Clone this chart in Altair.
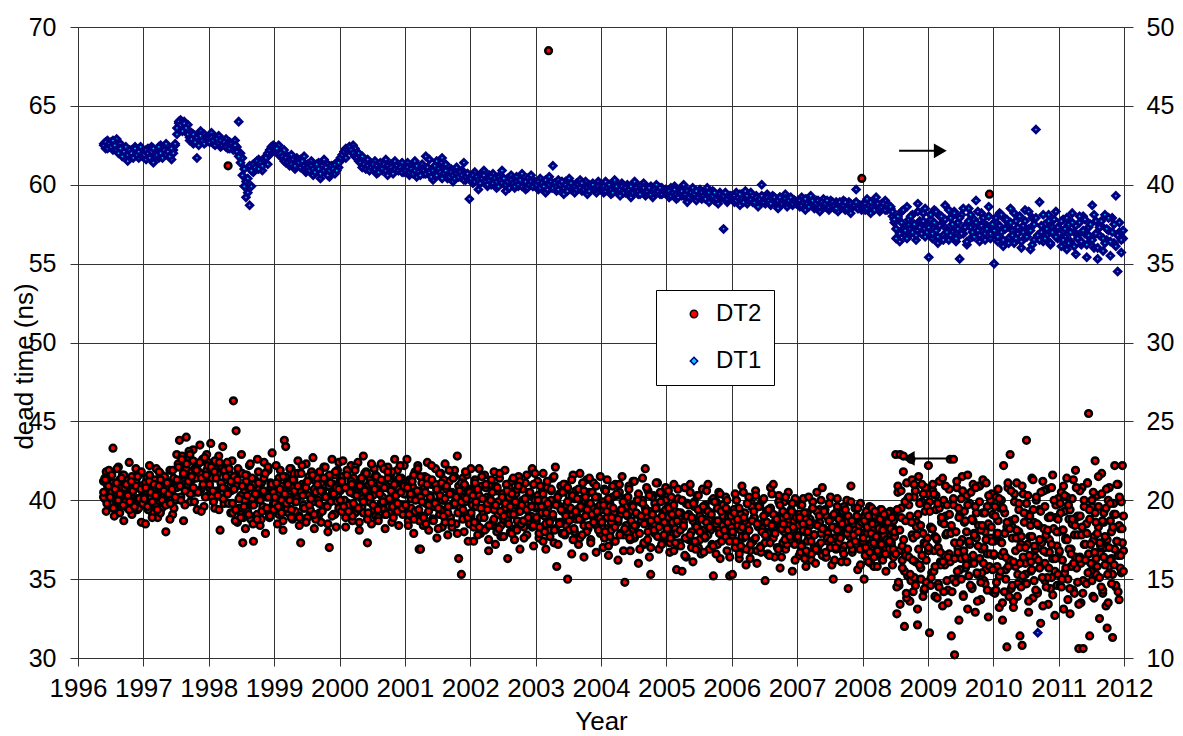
import altair as alt
import pandas as pd

FONT = "Liberation Sans"

# ---- sampling range of the measurements (decimal years) ----
FIRST_SAMPLE = 1996.38
LAST_SAMPLE = 2012.0

# ---- DT2 (left axis, ns), first set of readings, year by year ----
DT2_1996 = [41.2, 40.1, 41.8, 39.9, 40.7, 41.5, 40.3, 43.3, 39.6, 41.0, 40.4, 42.1, 39.2, 40.8, 41.6,
            38.7, 40.2, 41.3, 39.5, 42.4, 40.6, 39.1, 41.1, 40.0, 42.0, 39.4, 40.9, 41.7, 38.6, 40.5]
DT2_1997 = [40.3, 38.5, 41.4, 39.7, 42.2, 40.9, 39.2, 41.0, 40.1, 42.0, 38.9, 40.6, 41.7, 39.5, 40.2,
            41.3, 38.0, 40.8, 39.8, 41.9, 40.4, 39.1, 41.2, 40.0,
            42.9, 41.1, 43.8, 40.2, 42.4, 38.7, 41.6, 44.0, 40.8, 42.7, 39.9, 41.3, 43.2, 40.5, 42.1,
            39.4, 41.8, 43.5, 40.7, 42.5, 39.6, 41.4, 42.9, 40.3]
DT2_1998 = [41.9, 43.6, 40.2, 42.3, 39.5, 41.5, 40.6, 42.8, 38.1, 41.0, 43.4, 39.8, 42.0, 40.4, 61.2,
            41.7, 39.2, 42.5, 46.3, 40.9, 44.4, 38.6, 41.8, 39.3, 42.9, 37.3, 40.5, 38.2, 41.6, 39.7,
            42.2, 38.8, 40.1, 37.4, 41.3, 39.0, 42.6, 40.7, 38.4, 41.1, 39.6, 42.4, 37.9, 40.3, 41.9,
            38.9, 40.8, 43.0, 39.4]
DT2_1999 = [40.6, 42.2, 38.5, 41.4, 39.7, 40.9, 38.1, 43.8, 43.4, 41.1, 39.2, 40.4, 42.0, 38.8, 41.7,
            39.9, 40.2, 42.5, 38.4, 37.3, 41.0, 39.5, 40.7, 42.3, 38.9, 41.5, 39.3, 40.1, 42.7, 38.2,
            41.2, 40.0, 39.0, 41.8, 38.6, 40.5, 42.1, 39.6, 41.3, 38.0, 37.0, 40.8, 42.6, 39.1, 41.6,
            38.3, 40.3, 42.4]
DT2_2000 = [41.2, 39.4, 42.5, 40.0, 38.3, 41.7, 39.8, 40.9, 42.2, 38.7, 41.4, 39.2, 40.5, 42.4, 38.1,
            41.0, 39.6, 42.8, 40.2, 41.8, 37.3, 39.9, 41.3, 38.5, 40.7, 42.0, 39.0, 41.5, 38.9, 40.4,
            42.3, 39.5, 41.1, 38.2, 40.8, 42.1, 39.3, 41.6, 38.6, 40.1, 42.6, 39.7, 41.9, 38.4, 40.6,
            41.4, 39.1, 42.2]
DT2_2001 = [40.4, 42.6, 38.7, 41.3, 39.5, 40.9, 37.9, 41.8, 39.2, 42.2, 36.9, 36.9, 40.6, 38.4, 41.5,
            39.8, 42.4, 38.1, 40.2, 41.0, 38.8, 39.6, 42.0, 37.6, 40.8, 39.1, 41.7, 38.3, 40.0, 42.3,
            39.4, 37.8, 41.2, 38.9, 40.5, 39.7, 41.9, 38.5, 42.8, 36.3, 40.1, 35.3, 41.4, 38.0, 39.9,
            41.6, 37.4, 40.7]
DT2_2002 = [42.0, 39.7, 37.4, 41.3, 38.6, 40.5, 42.0, 37.9, 40.9, 39.0, 41.6, 38.2, 40.2, 36.8, 41.0,
            39.5, 38.4, 41.8, 37.2, 40.6, 39.1, 41.4, 37.7, 40.0, 38.8, 41.9, 39.4, 36.3, 40.8, 38.0,
            41.2, 39.8, 37.5, 40.4, 38.7, 41.5, 36.9, 39.9, 40.7, 38.3, 41.1, 37.8, 39.6, 40.3, 38.5,
            42.0, 37.1, 41.7]
DT2_2003 = [39.5, 41.2, 37.6, 40.4, 38.3, 41.7, 39.0, 36.9, 40.8, 68.5, 38.1, 40.0, 41.4, 37.3, 42.1,
            35.8, 39.7, 38.6, 40.9, 37.9, 39.3, 41.0, 38.4, 35.0, 40.3, 39.1, 36.6, 41.6, 38.0, 40.6,
            39.4, 37.2, 41.7, 38.8, 40.1, 36.4, 39.9, 41.3, 38.2, 40.5, 37.5, 39.6, 41.1, 38.5, 36.7,
            40.2, 38.9, 41.5]
DT2_2004 = [39.4, 37.0, 40.7, 38.2, 41.3, 36.5, 39.8, 38.6, 40.2, 37.4, 41.0, 38.9, 36.2, 40.5, 39.1,
            41.5, 37.8, 34.8, 39.6, 38.0, 40.9, 36.8, 39.3, 41.2, 37.6, 38.4, 40.0, 36.0, 39.9, 38.7,
            41.4, 37.2, 42.0, 39.0, 40.6, 36.4, 35.3, 38.3, 40.3, 37.9, 39.5, 41.1, 36.9, 38.8, 40.4,
            37.3, 39.2, 40.8]
DT2_2005 = [38.9, 40.6, 36.7, 39.5, 37.8, 41.0, 38.2, 35.6, 40.1, 37.3, 39.2, 35.5, 38.6, 40.8, 36.4,
            39.8, 37.5, 41.0, 38.0, 36.1, 39.6, 38.4, 40.3, 37.0, 39.0, 36.6, 40.7, 38.8, 37.6, 39.4,
            41.0, 36.9, 38.1, 40.0, 35.2, 38.7, 39.9, 37.2, 40.5, 36.3, 38.5, 39.7, 37.9, 40.2, 36.8,
            39.1, 35.2, 38.3]
DT2_2006 = [35.3, 38.7, 40.4, 37.0, 39.5, 36.3, 38.1, 40.9, 37.6, 39.2, 35.9, 38.5, 40.2, 36.8, 39.8,
            37.4, 38.9, 40.6, 36.0, 38.3, 39.6, 37.1, 40.0, 38.6, 34.9, 39.3, 36.6, 38.0, 40.8, 37.7,
            41.0, 36.4, 39.0, 38.2, 40.3, 35.7, 38.8, 37.3, 39.9, 36.9, 38.4, 40.5, 37.5, 39.4, 35.5,
            38.1, 40.1, 37.8]
DT2_2007 = [38.4, 36.5, 39.7, 37.2, 40.1, 38.0, 35.8, 39.2, 37.6, 38.8, 36.2, 39.9, 37.0, 38.5, 40.5,
            36.8, 39.4, 37.9, 40.8, 38.2, 36.4, 39.0, 37.4, 38.7, 40.2, 35.9, 35.0, 38.3, 36.9, 39.6,
            37.7, 38.9, 36.1, 39.3, 37.1, 38.6, 40.0, 34.4, 37.8, 40.9, 36.7, 38.1, 39.5, 37.3, 35.6,
            38.8, 39.8, 60.4]
DT2_2008 = [37.9, 35.0, 39.1, 36.6, 38.4, 37.2, 39.6, 36.0, 38.7, 37.5, 35.8, 39.2, 38.0, 36.9, 38.8,
            37.4, 39.4, 36.3, 38.2, 37.0, 39.0, 35.5, 38.5, 37.7, 36.6, 39.3, 37.1, 38.3, 36.4, 38.9,
            42.9, 32.8, 40.5, 34.6, 42.9, 38.9, 36.2, 42.8, 32.0, 36.5, 41.1, 35.2, 39.7, 33.6, 42.6,
            37.8, 34.2, 40.2, 36.1, 38.6, 32.1, 41.5, 38.4, 35.0, 39.9, 33.9, 37.3, 40.8, 34.8, 37.6]
DT2_2009 = [42.2, 31.6, 38.3, 35.4, 40.6, 36.8, 33.9, 39.4, 37.5, 34.7, 41.2, 36.1, 38.9, 33.3, 40.0,
            35.9, 37.8, 39.7, 34.3, 36.6, 42.6, 31.4, 38.1, 42.6, 30.2, 35.0, 40.8, 37.0, 32.4, 39.1,
            36.3, 41.5, 34.0, 38.6, 35.7, 40.3, 33.1, 37.3, 39.8, 36.0, 34.5, 41.0, 37.9, 32.9, 39.2,
            35.3, 38.4, 40.9, 33.7, 36.9, 41.3, 34.9, 38.0, 35.6, 39.6, 32.6, 59.4, 37.6, 40.4, 34.2]
DT2_2010 = [37.4, 34.1, 40.2, 35.8, 38.7, 33.2, 39.5, 36.5, 32.4, 42.2, 37.9, 35.0, 30.7, 40.8, 36.2,
            42.9, 34.4, 38.3, 33.6, 39.9, 36.8, 41.1, 35.3, 38.0, 31.4, 37.2, 30.8, 40.4, 34.7, 36.0,
            43.8, 39.1, 32.9, 37.7, 35.5, 41.4, 33.8, 38.6, 36.4, 40.0, 34.2, 37.0, 39.4, 32.2, 35.9,
            41.2, 38.2, 34.9, 36.7, 40.7, 33.4, 37.5, 39.0, 35.1, 41.6, 36.3, 32.7, 38.9, 34.6, 40.1]
DT2_2011 = [38.0, 34.6, 40.5, 36.2, 33.1, 39.3, 37.5, 41.4, 35.0, 38.8, 32.8, 36.9, 40.1, 34.3, 37.8,
            41.9, 35.7, 39.0, 30.6, 36.4, 33.5, 40.8, 30.6, 37.2, 34.8, 38.5, 41.1, 45.5, 31.4, 36.0,
            39.6, 33.9, 37.7, 42.5, 35.3, 40.3, 38.3, 32.5, 36.6, 41.7, 34.1, 39.2, 37.0, 33.3, 31.9,
            40.0, 35.8, 38.7, 36.3, 31.3, 39.8, 42.2, 34.5, 37.4, 41.0, 33.7, 38.2, 35.4, 42.2, 36.8]

# ---- DT2 second set of readings ----
DT2B_1996 = [40.2, 41.4, 39.3, 40.9, 41.9, 39.8, 40.5, 41.1, 39.0, 40.7, 42.0, 40.0, 41.3, 39.6, 40.4,
             41.6, 39.9, 40.8, 41.0, 39.4, 40.3, 41.5, 40.6, 39.7, 41.2, 40.1, 39.5, 40.9, 41.8, 40.2]
DT2B_1997 = [39.9, 41.1, 40.6, 39.4, 41.6, 40.2, 38.9, 40.8, 41.3, 39.6, 40.4, 41.8, 39.2, 40.7, 40.0,
             41.5, 39.7, 40.3, 41.1, 38.8, 40.5, 41.9, 39.5, 40.9,
             40.8, 42.3, 41.2, 40.0, 42.8, 41.6, 39.7, 42.0, 41.0, 43.1, 40.4, 41.8, 42.5, 39.9, 41.4,
             42.2, 40.6, 41.7, 39.3, 42.6, 41.1, 40.2, 41.9, 42.4]
DT2B_1998 = [40.8, 42.0, 41.4, 39.9, 42.5, 40.5, 41.7, 39.4, 42.2, 41.0, 40.1, 41.9, 40.7, 42.4, 39.8,
             41.2, 40.6, 39.2, 41.5, 38.7, 40.9, 42.0, 39.5, 40.3, 41.7, 38.9, 40.0, 41.2, 39.3, 40.8,
             42.3, 39.7, 38.5, 41.0, 40.4, 39.1, 41.8, 40.1, 38.8, 40.6, 41.4, 39.4, 40.2, 42.1, 39.0,
             41.1, 40.5, 39.8]
DT2B_1999 = [39.8, 41.0, 40.4, 39.1, 41.9, 40.0, 38.7, 40.6, 41.5, 39.5, 40.2, 42.0, 38.9, 40.8, 41.3,
             39.3, 40.1, 41.7, 39.0, 40.5, 42.2, 39.7, 40.9, 38.6, 41.2, 40.3, 39.4, 41.8, 39.9, 40.7,
             38.8, 41.4, 40.0, 39.2, 41.1, 40.6, 39.6, 42.1, 40.2, 38.5, 41.6, 39.9, 40.4, 41.0, 39.1,
             40.8, 41.9, 39.5]
DT2B_2000 = [40.6, 39.3, 41.5, 40.0, 38.9, 41.9, 39.7, 40.8, 41.2, 39.0, 40.4, 42.1, 39.5, 40.9, 38.6,
             41.3, 40.1, 39.2, 41.7, 40.5, 38.8, 41.0, 39.9, 42.3, 40.3, 39.4, 41.6, 40.7, 38.7, 41.1,
             39.8, 40.2, 42.0, 39.1, 40.9, 41.4, 39.6, 40.0, 41.8, 38.9, 40.5, 41.2, 39.3, 40.7, 42.2,
             39.7, 41.0, 40.4]
DT2B_2001 = [39.6, 40.9, 38.4, 41.2, 40.1, 38.9, 41.6, 39.3, 40.5, 42.0, 38.7, 40.2, 41.1, 39.0, 40.8,
             38.5, 41.4, 39.7, 40.3, 42.2, 38.8, 39.9, 41.0, 40.6, 38.2, 41.7, 39.4, 40.0, 41.3, 38.6,
             40.7, 39.2, 41.9, 40.4, 38.3, 39.8, 41.5, 40.1, 37.9, 40.9, 39.5, 41.1, 38.8, 40.2, 41.8,
             39.1, 40.6, 38.5]
DT2B_2002 = [39.0, 40.6, 38.3, 41.1, 39.6, 37.8, 40.3, 38.9, 41.5, 39.2, 38.1, 40.8, 39.8, 37.5, 40.1,
             41.3, 38.6, 39.4, 40.9, 38.0, 39.9, 41.7, 38.4, 40.4, 37.7, 39.5, 41.0, 38.8, 40.2, 39.1,
             37.9, 41.4, 39.7, 38.2, 40.7, 39.3, 41.2, 38.5, 40.0, 37.6, 39.8, 41.6, 38.7, 40.5, 39.0,
             38.3, 41.0, 39.6]
DT2B_2003 = [38.7, 40.3, 37.9, 40.9, 39.2, 37.4, 40.0, 38.5, 41.2, 39.6, 37.7, 40.6, 38.9, 41.5, 38.2,
             39.9, 37.2, 40.4, 38.6, 39.3, 41.0, 37.8, 39.7, 40.8, 38.1, 39.4, 41.3, 37.5, 40.1, 38.8,
             39.0, 40.7, 37.6, 39.5, 41.1, 38.4, 40.2, 38.0, 39.8, 41.4, 37.3, 40.5, 38.9, 39.1, 40.9,
             38.3, 39.6, 37.9]
DT2B_2004 = [38.3, 39.9, 37.6, 40.6, 38.9, 37.1, 39.6, 38.1, 40.9, 39.2, 37.4, 40.3, 38.6, 41.0, 37.9,
             39.4, 36.8, 40.1, 38.4, 39.0, 40.7, 37.5, 39.7, 38.2, 41.2, 37.8, 39.1, 40.4, 36.9, 38.7,
             40.0, 37.3, 39.5, 40.8, 38.0, 39.3, 37.0, 40.2, 38.5, 39.8, 41.1, 37.7, 38.8, 40.5, 37.2,
             39.2, 38.6, 40.0]
DT2B_2005 = [38.0, 39.6, 37.3, 40.2, 38.6, 36.8, 39.3, 37.9, 40.7, 38.9, 37.1, 40.0, 38.3, 36.5, 39.8,
             37.6, 39.1, 40.5, 37.0, 38.7, 39.9, 36.9, 38.4, 40.3, 37.5, 39.4, 38.1, 36.7, 39.7, 40.6,
             37.8, 38.8, 39.2, 37.2, 40.1, 38.5, 36.6, 39.5, 38.2, 40.4, 37.4, 39.0, 38.6, 37.7, 40.0,
             38.9, 36.4, 39.3]
DT2B_2006 = [37.8, 39.4, 37.0, 40.0, 38.4, 36.6, 39.1, 37.7, 40.5, 38.7, 36.9, 39.8, 38.1, 36.3, 39.6,
             37.4, 38.9, 40.3, 36.8, 38.5, 39.7, 36.7, 38.2, 40.1, 37.3, 39.2, 37.9, 36.5, 39.5, 40.4,
             37.6, 38.6, 39.0, 37.0, 39.9, 38.3, 36.4, 39.3, 38.0, 40.2, 37.2, 38.8, 38.4, 37.5, 39.8,
             38.7, 36.2, 39.1]
DT2B_2007 = [37.5, 39.1, 36.7, 39.7, 38.1, 36.3, 38.8, 37.4, 40.2, 38.4, 36.6, 39.5, 37.8, 36.0, 39.3,
             37.1, 38.6, 40.0, 36.5, 38.2, 39.4, 36.4, 37.9, 39.8, 37.0, 38.9, 37.6, 36.2, 39.2, 40.1,
             37.3, 38.3, 38.7, 36.8, 39.6, 38.0, 36.1, 39.0, 37.7, 39.9, 36.9, 38.5, 38.1, 37.2, 39.5,
             38.4, 35.9, 38.8]
DT2B_2008 = [37.4, 38.9, 36.5, 39.3, 37.9, 36.1, 38.6, 37.2, 39.5, 38.1, 36.4, 39.0, 37.6, 35.8, 38.8,
             37.0, 38.3, 39.4, 36.2, 37.8, 38.9, 36.6, 37.5, 39.2, 36.9, 38.4, 37.3, 35.9, 38.7, 37.7,
             38.0, 34.5, 40.9, 36.8, 33.4, 39.5, 37.1, 41.8, 35.5, 38.7, 33.8, 40.1, 36.4, 39.0, 34.9,
             41.3, 37.6, 35.1, 40.6, 38.3, 33.1, 36.9, 39.8, 35.7, 41.0, 37.9, 34.3, 39.3, 36.2, 40.4]
DT2B_2009 = [36.8, 39.9, 34.6, 38.2, 41.0, 35.5, 37.7, 40.3, 33.8, 37.0, 39.5, 35.9, 38.6, 41.4, 34.2,
             36.5, 39.0, 37.9, 33.5, 40.7, 36.1, 38.4, 35.0, 39.7, 37.3, 34.8, 41.2, 36.7, 38.9, 35.6,
             40.1, 37.5, 33.9, 39.3, 36.4, 38.0, 41.6, 35.2, 37.2, 40.5, 34.4, 38.7, 36.0, 39.6, 37.6,
             33.6, 40.9, 36.3, 38.1, 35.4, 39.2, 37.0, 34.7, 41.1, 36.6, 38.5, 35.8, 40.0, 37.4, 39.1]
DT2B_2010 = [36.5, 39.6, 34.3, 37.9, 40.7, 35.2, 37.4, 40.0, 33.5, 36.7, 39.2, 35.6, 38.3, 41.1, 33.9,
             36.2, 38.7, 37.6, 33.2, 40.4, 35.8, 38.1, 34.7, 39.4, 37.0, 34.5, 40.9, 36.4, 38.6, 35.3,
             39.8, 37.2, 33.6, 39.0, 36.1, 37.7, 41.3, 34.9, 36.9, 40.2, 34.1, 38.4, 35.7, 39.3, 37.3,
             33.3, 40.6, 36.0, 37.8, 35.1, 38.9, 36.7, 34.4, 40.8, 36.3, 38.2, 35.5, 39.7, 37.1, 38.8]
DT2B_2011 = [36.7, 39.8, 34.5, 38.1, 40.9, 35.4, 37.6, 40.2, 33.7, 36.9, 39.4, 35.8, 38.5, 41.3, 34.1,
             36.4, 38.9, 37.8, 33.4, 40.6, 36.0, 38.3, 34.9, 39.6, 37.2, 34.7, 41.1, 36.6, 38.8, 35.5,
             40.0, 37.4, 33.8, 39.2, 36.3, 37.9, 41.5, 35.1, 37.1, 40.4, 34.3, 38.6, 35.9, 39.5, 37.5,
             33.5, 40.8, 36.2, 38.0, 35.3, 39.1, 36.9, 34.6, 41.0, 36.5, 38.4, 35.7, 39.9, 37.3, 39.0]

# ---- DT2 third set of readings ----
DT2C_1996 = [40.5, 41.3, 39.8, 40.9, 40.2, 41.6, 39.5, 40.7, 41.1, 40.0, 40.4, 41.4, 39.7, 40.8, 41.0,
             40.3, 39.9, 41.2, 40.6, 39.6, 40.9, 41.5, 40.1, 40.7, 39.8]
DT2C_1997 = [40.1, 40.8, 39.6, 41.2, 40.5, 39.9, 41.0, 40.3, 39.4, 40.9, 41.3, 40.0, 40.6, 39.7, 41.1,
             40.4, 39.8, 40.7, 41.4, 40.2, 41.3, 42.1, 40.9, 42.6, 41.7, 40.6, 42.3, 41.2, 42.9, 41.5,
             40.8, 42.0, 41.9, 40.5, 42.4, 41.4, 41.0, 42.7, 41.6, 42.2]
DT2C_1998 = [41.0, 42.1, 40.6, 41.8, 41.4, 40.3, 42.4, 41.1, 40.8, 41.9, 41.5, 40.4, 42.0, 41.2, 39.8,
             40.7, 39.4, 41.3, 40.1, 38.9, 40.9, 39.6, 41.6, 40.3, 39.1, 40.8, 41.4, 39.7, 40.4, 38.8,
             41.1, 40.0, 39.3, 40.6, 41.7, 39.5, 40.2, 39.0, 41.0, 40.5]
DT2C_1999 = [40.2, 41.1, 39.6, 40.7, 39.2, 41.5, 40.4, 39.8, 41.0, 40.0, 39.4, 41.3, 40.6, 39.9, 40.9,
             38.9, 41.7, 40.3, 39.5, 40.8, 41.2, 39.7, 40.1, 41.6, 39.1, 40.5, 41.0, 39.8, 40.6, 39.3,
             41.4, 40.2, 39.6, 40.9, 41.1, 39.0, 40.4, 41.8, 39.9, 40.7]
DT2C_2000 = [40.0, 41.2, 39.6, 40.8, 41.6, 39.3, 40.5, 41.0, 39.8, 41.9, 40.3, 39.5, 40.9, 41.4, 39.9,
             40.6, 41.7, 39.2, 40.2, 41.1, 39.7, 40.7, 41.5, 39.4, 40.4, 41.3, 39.9, 40.8, 39.1, 41.8,
             40.1, 40.6, 39.6, 41.0, 40.3, 39.8, 41.4, 40.5, 39.5, 40.9]
DT2C_2001 = [39.7, 40.8, 39.1, 40.4, 41.2, 38.8, 40.0, 40.6, 39.4, 41.5, 39.9, 38.9, 40.5, 41.0, 39.3,
             40.2, 41.3, 38.7, 39.8, 40.7, 39.5, 40.3, 41.1, 39.0, 40.1, 40.9, 39.6, 40.4, 38.6, 41.4,
             39.8, 40.2, 39.2, 40.6, 39.9, 39.4, 41.0, 40.1, 38.9, 40.5]
DT2C_2002 = [39.2, 40.3, 38.6, 39.9, 40.7, 38.3, 39.5, 40.1, 38.9, 41.0, 39.4, 38.4, 40.0, 40.5, 38.8,
             39.7, 40.8, 38.2, 39.3, 40.2, 39.0, 39.8, 40.6, 38.5, 39.6, 40.4, 39.1, 39.9, 38.1, 40.9,
             39.3, 39.7, 38.7, 40.1, 39.4, 38.9, 40.5, 39.6, 38.4, 40.0]
DT2C_2003 = [38.9, 40.0, 38.3, 39.6, 40.4, 38.0, 39.2, 39.8, 38.6, 40.7, 39.1, 38.1, 39.7, 40.2, 38.5,
             39.4, 40.5, 37.9, 39.0, 39.9, 38.7, 39.5, 40.3, 38.2, 39.3, 40.1, 38.8, 39.6, 37.8, 40.6,
             39.0, 39.4, 38.4, 39.8, 39.1, 38.6, 40.2, 39.3, 38.1, 39.7]
DT2C_2004 = [38.6, 39.7, 38.0, 39.3, 40.1, 37.7, 38.9, 39.5, 38.3, 40.4, 38.8, 37.8, 39.4, 39.9, 38.2,
             39.1, 40.2, 37.6, 38.7, 39.6, 38.4, 39.2, 40.0, 37.9, 39.0, 39.8, 38.5, 39.3, 37.5, 40.3,
             38.7, 39.1, 38.1, 39.5, 38.8, 38.3, 39.9, 39.0, 37.8, 39.4]
DT2C_2005 = [38.2, 39.5, 37.6, 39.1, 39.7, 37.3, 38.7, 39.2, 38.1, 40.0, 38.4, 37.6, 39.0, 39.7, 37.8,
             38.9, 39.8, 37.4, 38.3, 39.4, 38.0, 38.8, 39.6, 37.7, 38.6, 39.3, 38.3, 39.1, 37.1, 39.9,
             38.5, 38.7, 37.9, 39.3, 38.4, 38.1, 39.5, 38.6, 37.4, 39.0]
DT2C_2006 = [38.0, 39.2, 37.4, 38.8, 39.5, 37.1, 38.3, 38.9, 37.7, 39.8, 38.1, 37.2, 38.7, 39.3, 37.6,
             38.5, 39.6, 37.0, 38.0, 39.0, 37.8, 38.6, 39.4, 37.3, 38.4, 39.1, 37.9, 38.8, 36.9, 39.7,
             38.2, 38.5, 37.5, 39.0, 38.1, 37.7, 39.3, 38.3, 37.2, 38.9]
DT2C_2007 = [37.7, 38.9, 37.1, 38.5, 39.2, 36.8, 38.0, 38.6, 37.4, 39.5, 37.8, 36.9, 38.4, 39.0, 37.3,
             38.2, 39.3, 36.7, 37.6, 38.7, 37.5, 38.3, 39.1, 37.0, 38.1, 38.8, 37.6, 38.5, 36.6, 39.4,
             37.9, 38.2, 37.2, 38.7, 37.8, 37.4, 39.0, 38.0, 36.9, 38.6]
DT2C_2008 = [37.6, 38.7, 37.0, 38.3, 39.0, 36.7, 37.9, 38.5, 37.3, 39.3, 37.7, 36.8, 38.2, 38.8, 37.2,
             38.1, 39.1, 36.6, 37.5, 38.6, 37.4, 38.2, 38.9, 36.9, 38.0,
             36.6, 39.4, 34.8, 38.1, 40.6, 35.7, 37.5, 39.9, 34.1, 36.9, 40.2, 35.3, 38.6, 36.2, 41.0,
             34.6, 37.8, 39.1, 35.9, 38.4, 36.5, 40.4, 34.4, 37.2, 39.6]
DT2C_2009 = [37.0, 39.3, 35.1, 38.2, 40.4, 35.8, 37.6, 39.8, 34.5, 36.7, 38.9, 36.1, 38.5, 40.9, 34.9,
             36.4, 39.1, 37.9, 34.2, 40.1, 36.3, 38.0, 35.5, 39.5, 37.3, 35.0, 40.6, 36.8, 38.7, 35.9,
             39.7, 37.4, 34.6, 38.8, 36.5, 37.8, 40.8, 35.4, 37.1, 39.9, 34.8, 38.4, 36.0, 39.2, 37.5,
             34.3, 40.3, 36.6, 38.3, 35.6]
DT2C_2010 = [36.6, 39.0, 34.8, 37.9, 40.1, 35.5, 37.3, 39.5, 34.2, 36.4, 38.6, 35.8, 38.2, 40.6, 34.6,
             36.1, 38.8, 37.6, 33.9, 39.8, 36.0, 37.7, 35.2, 39.2, 37.0, 34.7, 40.3, 36.5, 38.4, 35.6,
             39.4, 37.1, 34.3, 38.5, 36.2, 37.5, 40.5, 35.1, 36.8, 39.6, 34.5, 38.1, 35.7, 38.9, 37.2,
             34.0, 40.0, 36.3, 38.0, 35.3]
DT2C_2011 = [36.8, 39.2, 35.0, 38.1, 40.3, 35.7, 37.5, 39.7, 34.4, 36.6, 38.8, 36.0, 38.4, 40.8, 34.8,
             36.3, 39.0, 37.8, 34.1, 40.0, 36.2, 37.9, 35.4, 39.4, 37.2, 34.9, 40.5, 36.7, 38.6, 35.8,
             39.6, 37.3, 34.5, 38.7, 36.4, 37.7, 40.7, 35.3, 37.0, 39.8, 34.7, 38.3, 35.9, 39.1, 37.4,
             34.2, 40.2, 36.5, 38.2, 35.5]

# ---- DT1 (right axis, ns), first set of readings ----
DT1_1996 = [42.6, 42.3, 42.8, 42.4, 42.7, 42.2, 42.5, 42.9, 42.4, 42.6, 42.1, 41.9, 42.3, 41.5, 42.0,
            42.2, 41.8, 42.4, 42.0, 41.7, 42.3, 42.1]
DT1_1997 = [42.1, 41.6, 42.3, 41.9, 42.4, 41.4, 42.0, 42.2, 41.7, 42.5, 41.8, 42.1, 42.6, 41.9, 42.3,
            41.6, 42.2, 42.5, 43.2, 43.9, 44.1, 43.7, 44.0, 43.5, 43.8, 43.0, 43.3, 42.6, 43.1, 41.7,
            42.8, 43.4, 42.9, 43.2, 42.7, 43.0]
DT1_1998 = [42.9, 43.3, 42.6, 43.0, 42.7, 43.1, 42.4, 42.8, 42.6, 42.9, 42.3, 42.7, 42.5, 42.2, 42.8,
            42.4, 44.0, 42.0, 41.7, 41.0, 40.2, 39.5, 38.7, 39.9, 40.8, 41.4, 41.0, 41.6, 41.2, 40.9,
            41.5, 41.8, 41.3, 41.9, 42.3, 42.5]
DT1_1999 = [42.4, 42.1, 42.5, 42.0, 41.7, 42.2, 41.4, 41.8, 41.2, 41.9, 41.5, 41.0, 41.7, 41.3, 41.6,
            41.1, 41.8, 40.8, 41.3, 41.0, 41.5, 40.6, 41.2, 40.9, 41.4, 40.4, 41.1, 41.6, 40.8, 41.3,
            40.5, 41.0, 41.2, 40.7, 41.4, 41.1]
DT1_2000 = [41.5, 41.8, 42.0, 41.7, 42.2, 42.4, 42.1, 42.5, 42.3, 41.9, 42.0, 41.6, 41.8, 41.4, 41.2,
            41.6, 40.9, 41.3, 41.0, 41.5, 40.7, 41.2, 41.4, 40.9, 41.1, 41.6, 40.6, 41.0, 41.3, 40.8,
            41.5, 41.1, 40.9, 41.2, 41.4, 40.8]
DT1_2001 = [41.0, 41.4, 40.6, 41.2, 40.8, 41.5, 40.5, 41.1, 40.9, 41.3, 40.7, 41.8, 41.0, 41.6, 40.8,
            40.3, 41.2, 41.5, 40.9, 41.1, 41.7, 40.8, 41.3, 40.4, 40.7, 41.0, 40.2, 40.6, 41.1, 40.8,
            40.5, 40.9, 41.4, 40.3, 40.7, 39.1]
DT1_2002 = [40.5, 40.1, 40.8, 40.3, 39.7, 40.6, 40.2, 40.9, 40.4, 39.9, 40.6, 40.0, 40.7, 40.3, 39.8,
            40.5, 40.2, 40.9, 40.1, 39.6, 40.4, 40.0, 40.6, 40.2, 39.8, 40.5, 39.9, 40.3, 40.7, 40.0,
            39.7, 40.4, 40.1, 40.6, 39.9, 40.2]
DT1_2003 = [40.1, 39.7, 40.4, 39.9, 40.2, 39.5, 40.0, 40.5, 39.8, 41.2, 40.1, 39.6, 40.3, 39.9, 40.0,
            39.4, 40.2, 39.8, 40.4, 39.7, 40.0, 39.5, 40.1, 39.9, 40.3, 39.6, 39.8, 40.2, 39.4, 40.0,
            39.7, 40.1, 39.9, 39.5, 40.2, 39.8]
DT1_2004 = [39.9, 39.5, 40.2, 39.7, 40.0, 39.4, 39.8, 40.3, 39.6, 39.9, 39.3, 40.1, 39.7, 39.5, 40.0,
            39.8, 39.2, 39.6, 40.2, 39.7, 39.4, 39.9, 39.6, 40.1, 39.3, 39.8, 39.5, 39.9, 39.2, 39.7,
            40.0, 39.6, 39.4, 39.8, 39.5, 39.7]
DT1_2005 = [39.6, 39.2, 39.8, 39.4, 39.9, 39.1, 39.5, 39.7, 39.3, 40.0, 39.4, 38.9, 39.6, 39.2, 39.8,
            39.5, 39.0, 39.4, 39.7, 39.1, 39.5, 39.3, 39.8, 38.9, 39.4, 39.6, 39.0, 39.3, 38.8, 39.5,
            39.2, 37.2, 39.4, 38.9, 39.1, 39.3]
DT1_2006 = [39.3, 38.9, 39.5, 39.1, 38.7, 39.4, 39.0, 39.6, 38.8, 39.2, 39.5, 38.9, 39.1, 39.3, 38.6,
            39.0, 40.0, 39.2, 38.8, 39.4, 39.0, 38.7, 39.3, 38.9, 39.1, 38.5, 39.2, 38.8, 39.0, 39.4,
            38.6, 38.9, 39.1, 38.7, 39.0, 38.8]
DT1_2007 = [39.0, 38.6, 39.2, 38.8, 38.4, 39.1, 38.7, 39.3, 38.9, 38.5, 39.0, 38.7, 38.3, 38.9, 39.1,
            38.6, 38.8, 38.4, 39.0, 38.7, 38.5, 38.9, 38.3, 38.8, 38.6, 39.0, 38.4, 38.7, 38.9, 38.2,
            38.6, 38.8, 39.7, 38.5, 38.7, 38.4]
DT1_2008 = [38.8, 38.4, 39.1, 38.6, 38.2, 38.9, 38.5, 39.2, 38.7, 38.3, 38.8, 38.6, 39.0, 38.4, 38.7,
            38.5, 38.0, 37.6, 36.6, 37.9, 36.4, 38.3, 37.2, 36.8, 38.6, 37.5, 36.9, 38.1, 37.3, 36.5,
            38.8, 37.7, 37.0, 38.2, 36.7, 37.4]
DT1_2009 = [35.4, 37.8, 36.6, 38.4, 37.1, 36.3, 38.0, 37.5, 36.8, 38.7, 37.2, 36.5, 37.9, 37.0, 38.3,
            36.4, 37.6, 35.3, 38.1, 36.9, 37.4, 36.2, 38.5, 37.3, 36.7, 37.8, 39.0, 37.1, 36.4, 38.2,
            37.6, 36.9, 37.4, 38.6, 36.6, 37.2]
DT1_2010 = [35.0, 37.6, 36.4, 38.2, 37.0, 36.1, 37.8, 37.3, 36.6, 38.5, 37.1, 36.3, 37.7, 36.9, 38.0,
            36.0, 37.4, 38.4, 36.7, 37.2, 35.9, 37.9, 36.5, 43.5, 11.6, 38.9, 37.0, 36.4, 37.5, 36.8,
            38.1, 36.2, 37.3, 36.9, 38.3, 36.6]
DT1_2011 = [37.2, 36.1, 37.8, 36.7, 35.9, 37.5, 36.4, 38.2, 37.0, 35.6, 36.8, 37.6, 36.2, 38.0, 36.9,
            35.4, 37.3, 36.6, 38.7, 36.0, 37.7, 35.3, 36.8, 37.4, 35.8, 38.1, 36.5, 37.1, 35.5, 37.9,
            36.3, 39.3, 34.5, 37.0, 35.7, 36.6]

# ---- DT1 second set of readings ----
DT1B_1996 = [42.5, 42.7, 42.3, 42.6, 42.4, 42.8, 42.5, 42.2, 42.0, 42.3, 41.8, 42.1, 42.4, 41.9, 42.2,
             42.0, 41.7, 42.3, 41.9, 42.1, 42.4, 41.8]
DT1B_1997 = [41.9, 42.2, 42.0, 41.7, 42.1, 42.3, 41.8, 41.9, 42.4, 42.0, 41.7, 42.2, 41.9, 42.1, 41.8,
             42.3, 42.0, 42.6, 43.6, 44.0, 43.8, 43.4, 43.9, 43.6, 43.2, 42.8, 42.9, 43.2, 42.7, 43.0,
             42.5, 43.1, 42.8, 42.6, 43.0, 42.9]
DT1B_1998 = [42.7, 43.0, 42.8, 42.5, 42.9, 42.6, 42.8, 42.5, 42.7, 42.4, 42.6, 42.3, 42.6, 42.4, 42.5,
             42.1, 41.8, 41.4, 40.6, 39.9, 39.2, 40.4, 41.2, 40.9, 41.3, 41.1, 41.5, 41.0, 41.4, 41.2,
             41.6, 41.7, 42.0, 42.2, 42.4, 42.3]
DT1B_1999 = [42.2, 42.3, 41.9, 42.0, 41.8, 41.5, 41.7, 41.4, 41.6, 41.3, 41.6, 41.2, 41.5, 41.4, 41.1,
             41.5, 41.2, 41.0, 41.1, 40.9, 41.2, 41.0, 40.8, 41.3, 41.0, 40.7, 41.2, 40.9, 41.1, 40.6,
             40.9, 41.2, 41.0, 41.3, 40.9, 41.4]
DT1B_2000 = [41.7, 41.9, 42.1, 42.3, 42.2, 42.4, 42.2, 42.0, 41.8, 41.7, 41.5, 41.4, 41.1, 41.3, 41.0,
             41.2, 40.9, 41.1, 41.3, 41.0, 41.2, 40.8, 41.1, 41.0, 41.3, 40.9, 41.2, 41.0, 41.1, 40.7,
             41.0, 41.2, 40.9, 41.1, 40.8, 41.0]
DT1B_2001 = [40.9, 41.1, 40.8, 41.0, 40.7, 40.9, 41.2, 40.8, 40.6, 41.0, 40.9, 40.7, 41.1, 40.8, 40.5,
             40.9, 40.7, 40.6, 41.0, 40.8, 40.4, 40.7, 40.9, 40.6, 40.5, 40.8, 40.6, 40.4, 40.7, 40.5,
             40.8, 40.6, 40.3, 40.5, 40.7, 40.4]
DT1B_2002 = [40.4, 40.6, 40.2, 40.5, 40.3, 40.1, 40.4, 40.6, 40.2, 40.0, 40.3, 40.5, 40.1, 40.4, 40.2,
             39.9, 40.3, 40.1, 40.4, 40.0, 40.2, 39.8, 40.3, 40.1, 39.9, 40.2, 40.0, 40.3, 39.9, 40.1,
             40.2, 39.8, 40.0, 40.2, 39.9, 40.1]
DT1B_2003 = [40.0, 40.2, 39.8, 40.1, 39.9, 40.3, 39.7, 40.0, 40.2, 39.8, 40.1, 39.9, 39.7, 40.0, 40.2,
             39.8, 40.0, 39.6, 39.9, 40.1, 39.8, 39.9, 39.7, 40.0, 39.8, 40.1, 39.7, 39.9, 39.8, 39.6,
             39.9, 40.0, 39.7, 39.8, 39.9, 39.7]
DT1B_2004 = [39.8, 39.9, 39.6, 39.8, 40.0, 39.7, 39.5, 39.8, 39.9, 39.6, 39.7, 39.9, 39.5, 39.8, 39.6,
             39.7, 39.9, 39.5, 39.7, 39.8, 39.6, 39.4, 39.7, 39.8, 39.5, 39.6, 39.8, 39.4, 39.6, 39.7,
             39.5, 39.6, 39.8, 39.4, 39.6, 39.5]
DT1B_2005 = [39.5, 39.6, 39.3, 39.5, 39.7, 39.4, 39.2, 39.5, 39.6, 39.3, 39.4, 39.6, 39.2, 39.5, 39.3,
             39.4, 39.6, 39.2, 39.4, 39.5, 39.3, 39.1, 39.4, 39.5, 39.2, 39.3, 39.5, 39.1, 39.3, 39.4,
             39.2, 39.3, 39.5, 39.1, 39.3, 39.2]
DT1B_2006 = [39.2, 39.3, 39.0, 39.2, 39.4, 39.1, 38.9, 39.2, 39.3, 39.0, 39.1, 39.3, 38.9, 39.2, 39.0,
             39.1, 39.3, 38.9, 39.1, 39.2, 39.0, 38.8, 39.1, 39.2, 38.9, 39.0, 39.2, 38.8, 39.0, 39.1,
             38.9, 39.0, 39.2, 38.8, 39.0, 38.9]
DT1B_2007 = [38.9, 39.0, 38.7, 38.9, 39.1, 38.8, 38.6, 38.9, 39.0, 38.7, 38.8, 39.0, 38.6, 38.9, 38.7,
             38.8, 39.0, 38.6, 38.8, 38.9, 38.7, 38.5, 38.8, 38.9, 38.6, 38.7, 38.9, 38.5, 38.7, 38.8,
             38.6, 38.7, 38.9, 38.5, 38.7, 38.6]
DT1B_2008 = [38.7, 38.8, 38.5, 38.7, 38.9, 38.6, 38.4, 38.7, 38.8, 38.5, 38.6, 38.8, 38.4, 38.7, 38.5,
             38.6, 38.3, 37.8, 37.2, 38.0, 36.9, 37.6, 38.4, 37.1, 36.6, 37.8, 38.0, 37.0, 37.5, 36.8,
             38.3, 37.3, 36.9, 37.7, 38.5, 37.0]
DT1B_2009 = [37.3, 38.1, 36.9, 37.6, 38.3, 36.7, 37.4, 38.0, 36.5, 37.8, 37.0, 38.4, 36.8, 37.5, 38.2,
             36.6, 37.2, 37.9, 36.9, 38.5, 37.3, 36.4, 37.7, 38.1, 37.0, 36.7, 37.6, 38.3, 36.8, 37.4,
             37.9, 36.5, 37.2, 38.0, 36.9, 37.5]
DT1B_2010 = [37.1, 37.9, 36.7, 37.4, 38.1, 36.5, 37.2, 37.8, 36.3, 37.6, 36.8, 38.2, 36.6, 37.3, 38.0,
             36.4, 37.0, 37.7, 36.7, 38.3, 37.1, 36.2, 37.5, 37.9, 36.8, 36.5, 37.4, 38.1, 36.6, 37.2,
             37.7, 36.3, 37.0, 37.8, 36.7, 37.3]
DT1B_2011 = [36.9, 37.7, 36.5, 37.2, 37.9, 36.3, 37.0, 37.6, 36.1, 37.4, 36.6, 38.0, 36.4, 37.1, 37.8,
             36.2, 36.8, 37.5, 36.5, 38.1, 36.9, 36.0, 37.3, 37.7, 36.6, 36.3, 37.2, 37.9, 36.4, 37.0,
             37.5, 36.1, 36.8, 37.6, 36.5, 37.1]

YEARS = list(range(1996, 2012))
DT2_SETS = [
    dict(zip(YEARS, [DT2_1996, DT2_1997, DT2_1998, DT2_1999, DT2_2000, DT2_2001, DT2_2002, DT2_2003,
                     DT2_2004, DT2_2005, DT2_2006, DT2_2007, DT2_2008, DT2_2009, DT2_2010, DT2_2011])),
    dict(zip(YEARS, [DT2B_1996, DT2B_1997, DT2B_1998, DT2B_1999, DT2B_2000, DT2B_2001, DT2B_2002,
                     DT2B_2003, DT2B_2004, DT2B_2005, DT2B_2006, DT2B_2007, DT2B_2008, DT2B_2009,
                     DT2B_2010, DT2B_2011])),
    dict(zip(YEARS, [DT2C_1996, DT2C_1997, DT2C_1998, DT2C_1999, DT2C_2000, DT2C_2001, DT2C_2002,
                     DT2C_2003, DT2C_2004, DT2C_2005, DT2C_2006, DT2C_2007, DT2C_2008, DT2C_2009,
                     DT2C_2010, DT2C_2011])),
]
DT1_SETS = [
    dict(zip(YEARS, [DT1_1996, DT1_1997, DT1_1998, DT1_1999, DT1_2000, DT1_2001, DT1_2002, DT1_2003,
                     DT1_2004, DT1_2005, DT1_2006, DT1_2007, DT1_2008, DT1_2009, DT1_2010, DT1_2011])),
    dict(zip(YEARS, [DT1B_1996, DT1B_1997, DT1B_1998, DT1B_1999, DT1B_2000, DT1B_2001, DT1B_2002,
                     DT1B_2003, DT1B_2004, DT1B_2005, DT1B_2006, DT1B_2007, DT1B_2008, DT1B_2009,
                     DT1B_2010, DT1B_2011])),
]

# ---- legend / series styling ----
SERIES = ["DT2", "DT1"]
FILLS = ["#FF0000", "#00CCFF"]
STROKES = ["#000000", "#000080"]
SHAPES = ["circle", "diamond"]

# ---- axis ticks ----
LEFT_TICKS = [30, 35, 40, 45, 50, 55, 60, 65, 70]
RIGHT_TICKS = [10, 15, 20, 25, 30, 35, 40, 45, 50]
YEAR_TICKS = [1996 + 0.5 * k for k in range(33)]

# ---- arrow annotations (decimal year, left-axis value) ----
ARROW_DIR = ["right", "left"]
ARROW_X_START = [2008.56, 2009.33]
ARROW_X_END = [2009.14, 2008.74]
ARROW_HEAD_X = [2009.19, 2008.70]
ARROW_Y = [62.15, 42.65]


def to_frame(sets, series):
    rows = []
    for by_year in sets:
        for yr, vals in by_year.items():
            start = max(yr, FIRST_SAMPLE)
            end = min(yr + 1, LAST_SAMPLE)
            step = (end - start) / len(vals)
            for i, v in enumerate(vals):
                rows.append({"year": start + (i + 0.5) * step, "value": v, "series": series})
    return pd.DataFrame(rows)


df2 = to_frame(DT2_SETS, "DT2")
df1 = to_frame(DT1_SETS, "DT1")
arrows = pd.DataFrame({"dir": ARROW_DIR, "x1": ARROW_X_START, "x2": ARROW_X_END,
                       "hx": ARROW_HEAD_X, "y": ARROW_Y})

x_scale = alt.Scale(domain=[1996, 2012], nice=False, zero=False)
y_left = alt.Scale(domain=[30, 70], nice=False, zero=False)
y_right = alt.Scale(domain=[10, 50], nice=False, zero=False)

legend = alt.Legend(
    title=None, orient="none", legendX=578, legendY=263,
    fillColor="white", strokeColor="black", cornerRadius=0,
    padding=12, rowPadding=23, symbolOffset=14, labelOffset=10,
    labelFont=FONT, labelFontSize=24, labelColor="black",
    symbolSize=55, symbolStrokeWidth=1.5,
    labelExpr="datum.label + '\u00a0\u00a0'",
)
fill = alt.Fill("series:N", scale=alt.Scale(domain=SERIES, range=FILLS), legend=legend)
stroke = alt.Stroke("series:N", scale=alt.Scale(domain=SERIES, range=STROKES), legend=legend)
shape = alt.Shape("series:N", scale=alt.Scale(domain=SERIES, range=SHAPES), legend=legend)

x_axis = alt.Axis(
    title="Year", values=YEAR_TICKS, format="d",
    labelExpr="datum.value % 1 === 0 ? datum.label : ''",
    grid=True,
    gridOpacity={"condition": {"test": "datum.value % 1 === 0", "value": 1}, "value": 0},
    tickSize=8, labelPadding=9, labelFontSize=26, titleFontSize=26, titlePadding=7,
    labelFlush=False, labelOverlap=False,
)
left_axis = alt.Axis(
    title="dead time (ns)", values=LEFT_TICKS, format="d", orient="left", grid=True,
    tickSize=8, labelPadding=14, labelFontSize=25, titleFontSize=26,
    titleAngle=270, titleX=-46, titleY=339, titleAlign="center", titleBaseline="alphabetic",
)
right_axis = alt.Axis(
    title=None, values=RIGHT_TICKS, format="d", orient="right", grid=False,
    tickSize=9, labelPadding=13, labelFontSize=25,
)

X = alt.X("year:Q", scale=x_scale, axis=x_axis)

dt2 = alt.Chart(df2).mark_point(filled=True, size=45, strokeWidth=2.5, opacity=1).encode(
    x=X,
    y=alt.Y("value:Q", scale=y_left, axis=left_axis),
    fill=fill, stroke=stroke, shape=shape,
)

arrow_lines = alt.Chart(arrows).mark_rule(color="black", strokeWidth=2).encode(
    x=alt.X("x1:Q", scale=x_scale, axis=x_axis),
    x2="x2:Q",
    y=alt.Y("y:Q", scale=y_left, axis=left_axis),
)
head_right = alt.Chart(arrows[arrows["dir"] == "right"]).mark_point(
    shape="triangle-right", filled=True, size=220, color="black", opacity=1
).encode(x=alt.X("hx:Q", scale=x_scale, axis=x_axis),
         y=alt.Y("y:Q", scale=y_left, axis=left_axis))
head_left = alt.Chart(arrows[arrows["dir"] == "left"]).mark_point(
    shape="triangle-left", filled=True, size=220, color="black", opacity=1
).encode(x=alt.X("hx:Q", scale=x_scale, axis=x_axis),
         y=alt.Y("y:Q", scale=y_left, axis=left_axis))

left_group = alt.layer(dt2, arrow_lines, head_right, head_left)

dt1 = alt.Chart(df1).mark_point(filled=True, size=40, strokeWidth=3, opacity=1).encode(
    x=X,
    y=alt.Y("value:Q", scale=y_right, axis=right_axis),
    fill=fill, stroke=stroke, shape=shape,
)

chart = (
    alt.layer(left_group, dt1)
    .resolve_scale(y="independent")
    .properties(
        width=1046, height=631,
        autosize=alt.AutoSizeParams(type="none"),
        padding={"left": 78, "top": 27, "right": 59, "bottom": 78},
        background="white",
    )
    .configure_view(stroke="#333333", strokeWidth=1)
    .configure_axis(
        labelFont=FONT, titleFont=FONT, labelColor="black", titleColor="black",
        titleFontWeight="normal", domainColor="#333333", tickColor="#333333",
        gridColor="#333333", gridWidth=1, domainWidth=1, tickWidth=1,
    )
)

chart.save("out.html", embed_options={"renderer": "svg", "actions": False})
